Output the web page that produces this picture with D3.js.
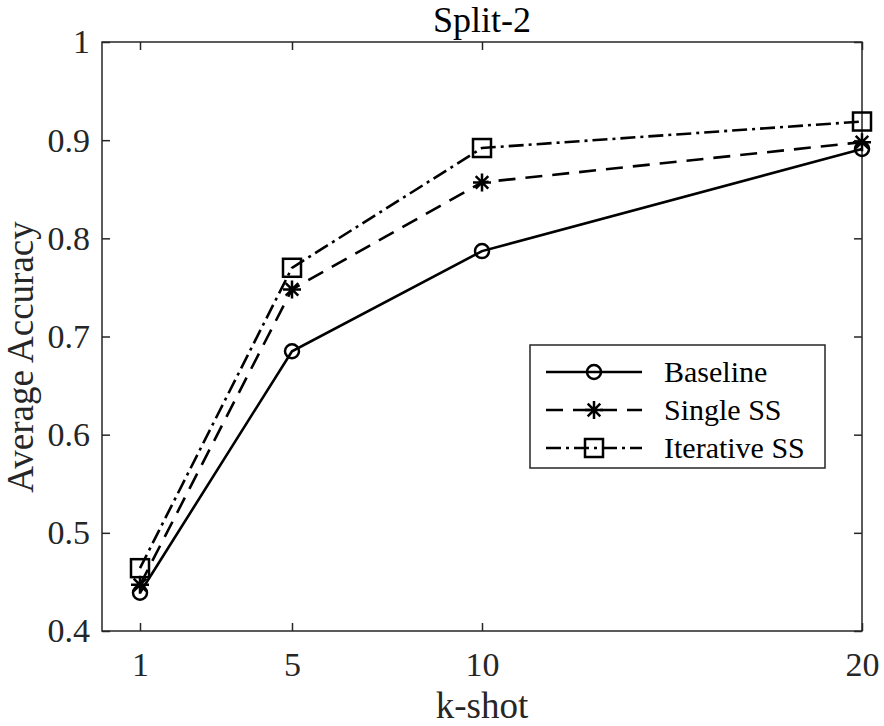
<!DOCTYPE html>
<html><head><meta charset="utf-8">
<script src="https://cdn.jsdelivr.net/npm/d3@7"></script>
<style>body{margin:0;background:#fff}</style>
</head><body>
<svg id="c" width="884" height="726"></svg>
<script>
const kshot = [1, 5, 10, 20];
const baseline = [0.439, 0.685, 0.787, 0.891];
const singleSS = [0.447, 0.748, 0.857, 0.898];
const iterativeSS = [0.464, 0.770, 0.892, 0.919];
const xTicks = [1, 5, 10, 20];
const yTicks = [0.4, 0.5, 0.6, 0.7, 0.8, 0.9, 1];
const seriesNames = ["Baseline", "Single SS", "Iterative SS"];

const svg = d3.select("#c");
const L = 102, R = 862, T = 42, B = 631;
const x = d3.scaleLinear().domain([0, 20]).range([L, R]);
const y = d3.scaleLinear().domain([0.4, 1]).range([B, T]);
const font = "'Liberation Serif','Times New Roman',serif";
const axisColor = "#262626";

// frame
svg.append("rect").attr("x", L).attr("y", T).attr("width", R - L).attr("height", B - T)
  .attr("fill", "none").attr("stroke", axisColor).attr("stroke-width", 1.5);

// axes
const xb = svg.append("g").attr("transform", `translate(0,${B})`)
  .call(d3.axisBottom(x).tickValues(xTicks).tickSizeInner(-8).tickSizeOuter(0).tickPadding(21));
const xt = svg.append("g").attr("transform", `translate(0,${T})`)
  .call(d3.axisTop(x).tickValues(xTicks).tickSizeInner(-8).tickSizeOuter(0).tickFormat(""));
const yl = svg.append("g").attr("transform", `translate(${L},0)`)
  .call(d3.axisLeft(y).tickValues(yTicks).tickSizeInner(-8).tickSizeOuter(0).tickPadding(12).tickFormat(d => d3.format("")(d)));
const yr = svg.append("g").attr("transform", `translate(${R},0)`)
  .call(d3.axisRight(y).tickValues(yTicks).tickSizeInner(-8).tickSizeOuter(0).tickFormat(""));
[xb, xt, yl, yr].forEach(g => {
  g.select(".domain").remove();
  g.selectAll(".tick line").attr("stroke", axisColor).attr("stroke-width", 1.5);
  g.selectAll(".tick text").attr("font-family", font).attr("font-size", 34).attr("fill", axisColor);
});

// titles
svg.append("text").attr("x", (L + R) / 2).attr("y", 32).attr("text-anchor", "middle")
  .attr("font-family", font).attr("font-size", 36).attr("fill", "#000").text("Split-2");
svg.append("text").attr("x", (L + R) / 2).attr("y", 718).attr("text-anchor", "middle")
  .attr("font-family", font).attr("font-size", 37).attr("fill", axisColor).text("k-shot");
svg.append("text").attr("transform", `translate(33,357) rotate(-90)`).attr("text-anchor", "middle")
  .attr("font-family", font).attr("font-size", 37).attr("fill", axisColor).text("Average Accuracy");

const series = [
  {name: seriesNames[0], vals: baseline, dash: null, marker: "circle"},
  {name: seriesNames[1], vals: singleSS, dash: "17,10", marker: "star"},
  {name: seriesNames[2], vals: iterativeSS, dash: "15,5,3,5", marker: "square"}
];

function drawMarker(g, type, cx, cy) {
  if (type === "circle") {
    g.append("circle").attr("cx", cx).attr("cy", cy).attr("r", 7)
      .attr("fill", "none").attr("stroke", "#000").attr("stroke-width", 2.5);
  } else if (type === "square") {
    g.append("rect").attr("x", cx - 9).attr("y", cy - 9).attr("width", 18).attr("height", 18)
      .attr("fill", "none").attr("stroke", "#000").attr("stroke-width", 2.5);
  } else {
    const s = 9;
    const p = `M${cx - s},${cy}L${cx + s},${cy}M${cx},${cy - s}L${cx},${cy + s}` +
      `M${cx - s * 0.7},${cy - s * 0.7}L${cx + s * 0.7},${cy + s * 0.7}M${cx - s * 0.7},${cy + s * 0.7}L${cx + s * 0.7},${cy - s * 0.7}`;
    g.append("path").attr("d", p).attr("stroke", "#000").attr("stroke-width", 2.5).attr("fill", "none");
  }
}

const line = d3.line().x((d, i) => x(kshot[i])).y(d => y(d));
series.forEach(s => {
  svg.append("path").attr("d", line(s.vals)).attr("fill", "none").attr("stroke", "#000")
    .attr("stroke-width", 2.6).attr("stroke-dasharray", s.dash);
  const g = svg.append("g");
  s.vals.forEach((v, i) => drawMarker(g, s.marker, x(kshot[i]), y(v)));
});

// legend
const lg = svg.append("g");
lg.append("rect").attr("x", 530).attr("y", 345).attr("width", 295).attr("height", 123)
  .attr("fill", "#fff").attr("stroke", axisColor).attr("stroke-width", 1.5);
series.forEach((s, i) => {
  const ly = 372 + i * 38;
  lg.append("line").attr("x1", 546).attr("x2", 642).attr("y1", ly).attr("y2", ly)
    .attr("stroke", "#000").attr("stroke-width", 2.6).attr("stroke-dasharray", s.dash);
  drawMarker(lg, s.marker, 594, ly);
  lg.append("text").attr("x", 664).attr("y", ly + 10).attr("font-family", font).attr("font-size", 30)
    .attr("fill", "#000").text(s.name);
});
</script>
</body></html>
